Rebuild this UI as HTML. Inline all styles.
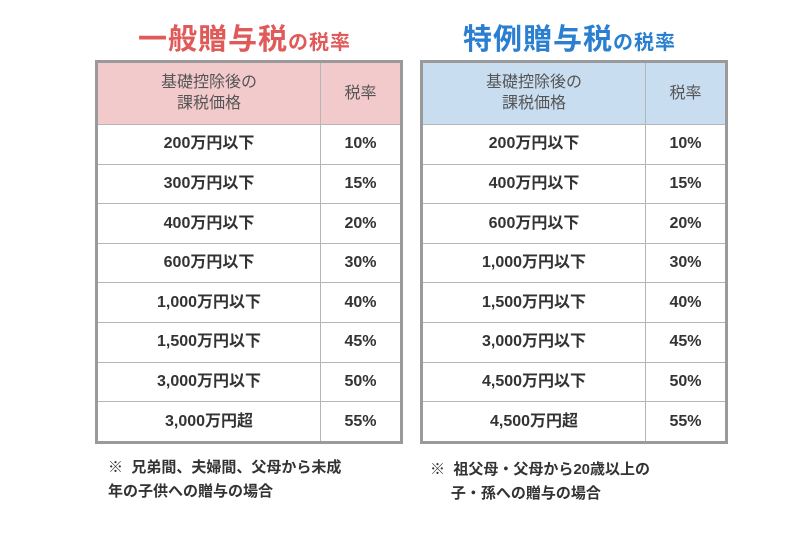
<!DOCTYPE html>
<html><head><meta charset="utf-8">
<style>
body{margin:0;width:800px;height:535px;background:#fff;position:relative;overflow:hidden;font-family:"Liberation Sans","Noto Sans CJK JP",sans-serif;color:#333}
.title{position:absolute;top:20px;font-weight:bold;font-size:29px;white-space:nowrap;letter-spacing:1px;line-height:40px}
.title small{font-size:20px}
table{position:absolute;top:60px;border-collapse:collapse;border:3px solid #9a9a9a;width:308px;height:384px;table-layout:fixed}
td{border:1.5px solid #b5b5b5;text-align:center;vertical-align:middle;font-size:16px;font-weight:bold;height:38px;padding:0;color:#333;line-height:18px}
td span{display:inline-block;line-height:18px;height:18px;overflow:visible}
tr.h td{height:60px;font-weight:normal;font-size:16px;color:#555;line-height:21px}
.l tr.h td{background:#f3cacc}
.r tr.h td{background:#c9ddf0}
td.c1{width:222px}
.note{position:absolute;font-size:15px;font-weight:bold;line-height:24px;color:#333}
</style></head><body>
<div class="title" style="left:138px;color:#e05a5a">一般贈与税<small>の税率</small></div>
<div class="title" style="left:463px;color:#2a7fd0">特例贈与税<small>の税率</small></div>

<table class="l" style="left:95px">
<tr class="h"><td class="c1">基礎控除後の<br>課税価格</td><td>税率</td></tr>
<tr><td><span>200万円以下</span></td><td><span>10%</span></td></tr>
<tr><td><span>300万円以下</span></td><td><span>15%</span></td></tr>
<tr><td><span>400万円以下</span></td><td><span>20%</span></td></tr>
<tr><td><span>600万円以下</span></td><td><span>30%</span></td></tr>
<tr><td><span>1,000万円以下</span></td><td><span>40%</span></td></tr>
<tr><td><span>1,500万円以下</span></td><td><span>45%</span></td></tr>
<tr><td><span>3,000万円以下</span></td><td><span>50%</span></td></tr>
<tr><td><span>3,000万円超</span></td><td><span>55%</span></td></tr>
</table>

<table class="r" style="left:420px">
<tr class="h"><td class="c1">基礎控除後の<br>課税価格</td><td>税率</td></tr>
<tr><td><span>200万円以下</span></td><td><span>10%</span></td></tr>
<tr><td><span>400万円以下</span></td><td><span>15%</span></td></tr>
<tr><td><span>600万円以下</span></td><td><span>20%</span></td></tr>
<tr><td><span>1,000万円以下</span></td><td><span>30%</span></td></tr>
<tr><td><span>1,500万円以下</span></td><td><span>40%</span></td></tr>
<tr><td><span>3,000万円以下</span></td><td><span>45%</span></td></tr>
<tr><td><span>4,500万円以下</span></td><td><span>50%</span></td></tr>
<tr><td><span>4,500万円超</span></td><td><span>55%</span></td></tr>
</table>

<div class="note" style="left:108px;top:456px">※&nbsp; 兄弟間、夫婦間、父母から未成<br>年の子供への贈与の場合</div>
<div class="note" style="left:430px;top:458px">※&nbsp; 祖父母・父母から20歳以上の<br>&nbsp;&nbsp;&nbsp;&nbsp;&nbsp;子・孫への贈与の場合</div>
</body></html>
